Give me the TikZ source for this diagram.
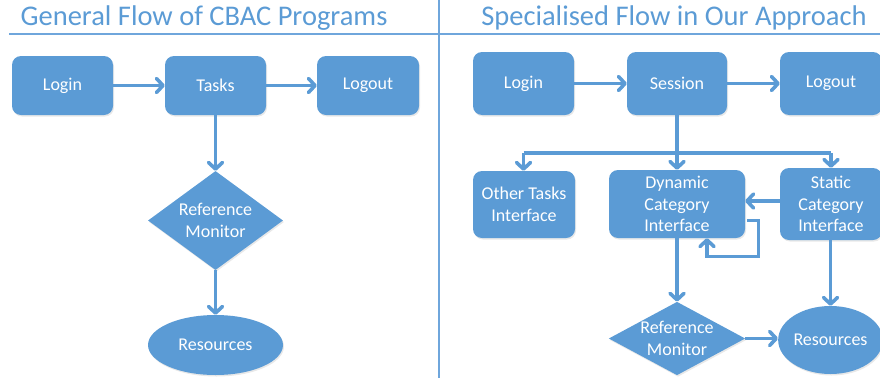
\documentclass[tikz,border=0pt]{standalone}
\usepackage{fontspec}
\setmainfont{Carlito}
\usetikzlibrary{arrows.meta,shapes.geometric,shadows}
\definecolor{flowblue}{HTML}{5B9BD5}
\definecolor{rulecol}{HTML}{6FA6DC}
\tikzset{
  base/.style={fill=flowblue, draw=none, text=white, font=\fontsize{18}{21.5}\selectfont,
    align=center, inner sep=0pt,
    drop shadow={opacity=0.18, shadow xshift=1pt, shadow yshift=-1.5pt}},
  stepbox/.style={base, rectangle, rounded corners=9pt},
  decision/.style={base, diamond, aspect=1.36},
  store/.style={base, ellipse},
  flow/.style={draw=flowblue, line width=3.6pt,
    -{Straight Barb[length=6.5pt,width=14pt,line cap=round,line join=round]}},
  plain/.style={draw=flowblue, line width=3.6pt},
  title/.style={text=flowblue, font=\fontsize{28.5}{30}\selectfont, anchor=center},
  panelrule/.style={draw=rulecol, line width=2pt}
}
\begin{document}
\begin{tikzpicture}[x=1pt,y=-1pt]
\useasboundingbox (0,0) rectangle (880,378);

% panel frames
\draw[panelrule] (9,33.5) -- (880,33.5);
\draw[panelrule] (439,0) -- (439,378);

% titles
\node[title] (t1) at (204,18) {General Flow of CBAC Programs};
\node[title] (t2) at (674,18) {Specialised Flow in Our Approach};

% ---- general flow ----
\node[stepbox, minimum width=101pt, minimum height=59pt] (login1)  at (62.5,85.5) {Login};
\node[stepbox, minimum width=101pt, minimum height=59pt] (tasks1)  at (215.5,85.5) {Tasks};
\node[stepbox, minimum width=102pt, minimum height=59pt] (logout1) at (368,85.5) {Logout};
\node[decision, minimum width=135pt, minimum height=99pt] (rm1) at (215.5,220.5) {Reference\\Monitor};
\node[store, minimum width=135pt, minimum height=60pt] (res1) at (215.5,345) {Resources};

\draw[flow] (login1) -- (tasks1);
\draw[flow] (tasks1) -- (logout1);
\draw[flow] (tasks1) -- (rm1);
\draw[flow] (rm1) -- (res1);

% ---- specialised flow ----
\node[stepbox, minimum width=101pt, minimum height=63pt] (login2)  at (523.5,83.5) {Login};
\node[stepbox, minimum width=100pt, minimum height=63pt] (sess2)   at (677,83.5) {Session};
\node[stepbox, minimum width=102pt, minimum height=63pt] (logout2) at (831,83.5) {Logout};

\node[stepbox, minimum width=102pt, minimum height=67pt] (other2) at (524,204.5) {Other Tasks\\Interface};
\node[stepbox, minimum width=136pt, minimum height=68pt] (dyn2)   at (677,204) {Dynamic\\Category\\Interface};
\node[stepbox, minimum width=102pt, minimum height=72pt] (stat2)  at (831,204) {Static\\Category\\Interface};

\node[decision, minimum width=134pt, minimum height=72pt, aspect=1.86] (rm2) at (677,338.5) {Reference\\Monitor};
\node[store, minimum width=101pt, minimum height=68pt] (res2) at (830.5,340) {Resources};

\coordinate (split) at (677,153);
\coordinate (sl) at (523.5,153);
\coordinate (sr) at (831,153);

\draw[flow] (login2) -- (sess2);
\draw[flow] (sess2) -- (logout2);
\draw[plain] (sess2.south) -- (split);
\draw[plain] (sl) -- (sr);
\draw[flow] (sl) -- (other2.north -| sl);
\draw[flow] (split) -- (dyn2.north);
\draw[flow] (sr) -- (stat2.north -| sr);

\draw[flow] (stat2.west |- 0,201) -- (dyn2.east |- 0,201);
\coordinate (loopa) at (747,220.5);
\coordinate (loopb) at (758.5,256.5);
\draw[flow, line join=miter] (loopa) -| (loopb) -| (dyn2.south -| 707,0);

\draw[flow] (dyn2.south) -- (rm2.north);
\draw[flow] (rm2.east) -- (res2.west |- rm2.east);
\draw[flow] (stat2.south -| res2.north) -- (res2.north);
\end{tikzpicture}
\end{document}
